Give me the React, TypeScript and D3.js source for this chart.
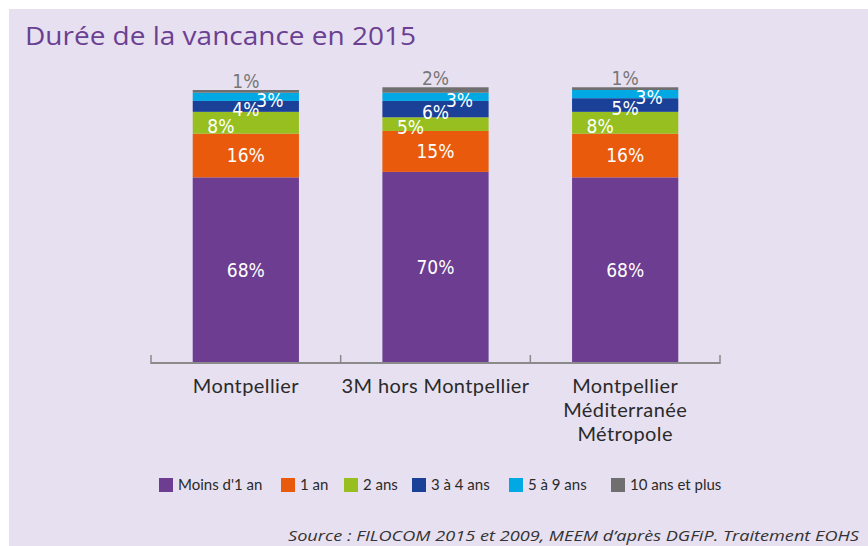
import React from "react";
import * as d3 from "d3";

const categories = ["Montpellier", "3M hors Montpellier", "Montpellier\nMéditerranée\nMétropole"];
const seriesNames = ["Moins d'1 an", "1 an", "2 ans", "3 à 4 ans", "5 à 9 ans", "10 ans et plus"];
const moinsUnAn = [68, 70, 68];
const unAn = [16, 15, 16];
const deuxAns = [8, 5, 8];
const troisQuatre = [4, 6, 5];
const cinqNeuf = [3, 3, 3];
const dixPlus = [1, 2, 1];
const colors = ["#6c3d91", "#e95a0c", "#97bf1f", "#1a4097", "#00a8e4", "#6f6f6f"];

const W = 868;
const H = 546;

export default function App() {
  const series = [moinsUnAn, unAn, deuxAns, troisQuatre, cinqNeuf, dixPlus];
  const rows = categories.map((c, i) => {
    const r: any = { cat: c };
    seriesNames.forEach((s, k) => (r[s] = series[k][i]));
    return r;
  });
  const stacked = d3.stack<any>().keys(seriesNames)(rows);

  const x = d3.scaleBand<string>().domain(categories).range([151, 720]).padding(0);
  const barW = x.bandwidth() * 0.56;
  const y = d3.scaleLinear().domain([0, 100]).range([363, 90]);

  const labelFont = "'DejaVu Sans Condensed', 'DejaVu Sans', sans-serif";
  const uiFont = "Lato, 'Open Sans', sans-serif";
  const dxBySeries = [0, 0, -25, 0, 24, 0];

  const legendX = [159, 281, 344, 412, 509, 611];

  return (
    <svg width={W} height={H} style={{ position: "absolute", left: 0, top: 0 }}>
      <rect x={0} y={0} width={W} height={H} fill="#ffffff" />
      <rect x={9} y={9} width={W - 9} height={H - 9} fill="#e7e0f0" />
      <text
        x={25}
        y={45}
        fontFamily="'Open Sans', Lato, sans-serif"
        fontSize={26}
        fill="#6b3f92"
        textLength={391}
        lengthAdjust="spacingAndGlyphs"
      >
        Durée de la vancance en 2015
      </text>

      {stacked.map((s, k) =>
        s.map((d, i) => {
          const cx = (x(categories[i]) as number) + x.bandwidth() / 2;
          return (
            <rect
              key={`b${k}-${i}`}
              x={cx - barW / 2}
              width={barW}
              y={y(d[1])}
              height={y(d[0]) - y(d[1])}
              fill={colors[k]}
            />
          );
        })
      )}

      {stacked.map((s, k) =>
        s.map((d, i) => {
          const cx = (x(categories[i]) as number) + x.bandwidth() / 2;
          const v = d[1] - d[0];
          let ty: number;
          let fill = "#ffffff";
          if (k === 5) {
            ty = y(d[1]) - 9;
            fill = "#777777";
          } else {
            ty = (y(d[0]) + y(d[1])) / 2 + (k >= 2 ? 3 : 0);
          }
          return (
            <text
              key={`l${k}-${i}`}
              x={cx + dxBySeries[k]}
              y={ty}
              dy="0.36em"
              textAnchor="middle"
              fontFamily={labelFont}
              fontStretch="condensed"
              fontSize={19}
              fill={fill}
            >
              {`${v}%`}
            </text>
          );
        })
      )}

      <line x1={151} x2={720} y1={363} y2={363} stroke="#8a8a8a" strokeWidth={2} />
      {[...categories.map((c) => x(c) as number), 720].map((t, i) => (
        <line key={`t${i}`} x1={t} x2={t} y1={355} y2={364} stroke="#8a8a8a" strokeWidth={1.5} />
      ))}
      {categories.map((c, i) => {
        const cx = (x(c) as number) + x.bandwidth() / 2;
        return (
          <text
            key={`c${i}`}
            x={cx}
            y={393}
            textAnchor="middle"
            fontFamily={uiFont}
            fontSize={20}
            letterSpacing={0.4}
            fill="#2a2a2a"
          >
            {c.split("\n").map((line, j) => (
              <tspan key={j} x={cx} dy={j === 0 ? 0 : 24}>
                {line}
              </tspan>
            ))}
          </text>
        );
      })}

      {seriesNames.map((s, k) => (
        <g key={`lg${k}`} transform={`translate(${legendX[k]},478)`}>
          <rect x={0} y={0} width={14} height={14} fill={colors[k]} />
          <text x={19} y={12} fontFamily={uiFont} fontSize={15} fill="#2a2a2a">
            {s}
          </text>
        </g>
      ))}

      <text
        x={288}
        y={541}
        fontFamily="'Open Sans', Lato, sans-serif"
        fontStyle="italic"
        fontSize={15}
        fill="#333333"
        textLength={571}
        lengthAdjust="spacingAndGlyphs"
      >
        Source : FILOCOM 2015 et 2009, MEEM d’après DGFiP. Traitement EOHS
      </text>
    </svg>
  );
}
